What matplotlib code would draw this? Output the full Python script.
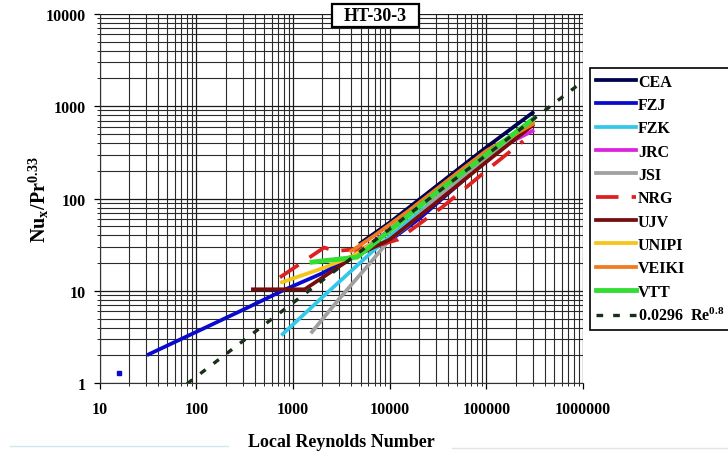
import numpy as np
import matplotlib.pyplot as plt
from matplotlib.lines import Line2D
from matplotlib.patches import Rectangle
from matplotlib.ticker import LogLocator, FuncFormatter, NullFormatter

plt.rcParams['font.family'] = ['Liberation Serif', 'DejaVu Serif']
plt.rcParams['font.weight'] = 'bold'
plt.rcParams['mathtext.fontset'] = 'custom'
plt.rcParams['mathtext.rm'] = 'Liberation Serif:bold'
plt.rcParams['mathtext.it'] = 'Liberation Serif:bold'
plt.rcParams['mathtext.bf'] = 'Liberation Serif:bold'

# local Reynolds number / Nusselt group for each participant
cea_re = [5000, 10000, 30000, 100000, 300000]
cea_nu = [33, 55, 135, 360, 850]

fzj_re = [32, 100, 300, 800, 2000, 4000, 10000, 20000, 35000, 100000, 300000]
fzj_nu = [2.05, 3.6, 6.2, 10.2, 15.5, 23.5, 35, 60, 100, 260, 680]
fzj_dot_re = [15.7]
fzj_dot_nu = [1.28]

fzk_re = [780, 2000, 6700, 10000, 30000, 100000, 300000]
fzk_nu = [3.4, 8.5, 27, 39, 100, 280, 680]

jrc_re = [4500, 6000, 10000, 30000, 100000, 300000]
jrc_nu = [26, 31, 46, 115, 300, 540]

jsi_re = [1570, 3000, 6000, 10000, 15000, 30000, 100000, 300000]
jsi_nu = [3.6, 8.2, 19, 36, 50, 100, 270, 650]

nrg_re = [730, 2100, 2700, 6000, 12200, 35000, 120000, 240000]
nrg_nu = [14, 29.5, 27, 29, 36, 81, 235, 420]

ujv_re = [384, 1320, 4200, 10000, 30000, 100000, 300000]
ujv_nu = [10.4, 10.4, 23.2, 36, 90, 250, 620]

unipi_re = [766, 2000, 4200, 10000, 30000, 100000, 300000]
unipi_nu = [12.4, 17.5, 24, 44, 115, 300, 690]

veiki_re = [4000, 7000, 16000, 50000, 100000, 300000]
veiki_nu = [27, 40, 75, 190, 330, 640]

vtt_re = [1570, 4600, 10000, 30000, 100000, 300000]
vtt_nu = [20.5, 23.2, 45, 115, 300, 720]

# Dittus-Boelter type correlation 0.0296 Re^0.8
ref_re = np.array([80, 870000])
ref_nu = 0.0296 * ref_re ** 0.8

fig = plt.figure(figsize=(7.28, 4.52), dpi=100)
ax = fig.add_axes([0.137, 0.150, 0.664, 0.817])

lw = 2.7
ax.plot(cea_re, cea_nu, color='#000050', lw=lw, label='CEA')
ax.plot(fzj_re, fzj_nu, color='#0a0acc', lw=lw, label='FZJ')
ax.plot(fzj_dot_re, fzj_dot_nu, 's', color='#0a0acc', ms=2.2)
ax.plot(fzk_re, fzk_nu, color='#33c8ea', lw=lw, label='FZK')
ax.plot(jrc_re, jrc_nu, color='#dd22dd', lw=lw, label='JRC')
ax.plot(jsi_re, jsi_nu, color='#a0a0a0', lw=lw, label='JSI')
ax.plot(nrg_re, nrg_nu, color='#dd2020', lw=lw, dashes=(6, 3.5), label='NRG')
ax.plot(ujv_re, ujv_nu, color='#760c0c', lw=lw, label='UJV')
ax.plot(unipi_re, unipi_nu, color='#f5c518', lw=lw, label='UNIPI')
ax.plot(veiki_re, veiki_nu, color='#f07a1e', lw=lw, label='VEIKI')
ax.plot(vtt_re, vtt_nu, color='#33dd33', lw=3.5, label='VTT')
ax.plot(ref_re, ref_nu, color='#1a2e1a', lw=2.4, dashes=(2, 3),
        label=r'0.0296  Re$^{\rm 0.8}$')

ax.set_xscale('log')
ax.set_yscale('log')
ax.set_xlim(10, 1e6)
ax.set_ylim(1, 1e4)

fmt = FuncFormatter(lambda v, p: '%d' % round(v))
ax.xaxis.set_major_formatter(fmt)
ax.yaxis.set_major_formatter(fmt)
for a in (ax.xaxis, ax.yaxis):
    a.set_minor_locator(LogLocator(base=10, subs=np.arange(2, 10)))
    a.set_minor_formatter(NullFormatter())

ax.grid(True, which='major', color='#1a1a1a', lw=0.9)
ax.grid(True, which='minor', color='#2a2a2a', lw=0.8)
ax.set_axisbelow(True)

ax.tick_params(which='major', direction='out', length=4, width=0.9,
               labelsize=11.5, pad=6)
ax.tick_params(which='minor', direction='out', length=2, width=0.6)
ax.tick_params(axis='x', which='major', pad=9)
for s in ('top', 'right'):
    ax.spines[s].set_visible(False)
for s in ('left', 'bottom'):
    ax.spines[s].set_color('#333333')

ax.set_xlabel('Local Reynolds Number', fontsize=13, fontweight='bold', labelpad=11)
ax.set_ylabel(r'Nu$_{\rm x}$/Pr$^{\rm 0.33}$', fontsize=14.5, fontweight='bold', labelpad=-4)

# boxed run title
fig.add_artist(Rectangle((332 / 728, 1 - 28 / 452), 87 / 728, 23 / 452,
                         transform=fig.transFigure, fc='white', ec='black', lw=1.6))
fig.text(375.5 / 728, 1 - 16.5 / 452, 'HT-30-3', fontsize=13, fontweight='bold',
         ha='center', va='center')

leg = fig.legend(loc='upper left', bbox_to_anchor=(590 / 728, 1 - 69 / 452),
                 fontsize=11.5, handlelength=2.5, handletextpad=0.15,
                 labelspacing=0.46, borderaxespad=0, borderpad=0.35,
                 fancybox=False, framealpha=1, edgecolor='black')
leg.get_frame().set_linewidth(1.2)

# faint slide borders along the bottom
fig.add_artist(Line2D([10 / 728, 228 / 728], [1 - 447 / 452] * 2,
                      color='#cfe6f0', lw=1))
fig.add_artist(Line2D([452 / 728, 1.0], [1 - 449 / 452] * 2,
                      color='#e4e4e4', lw=1))

fig.savefig('out.png', dpi=100)
